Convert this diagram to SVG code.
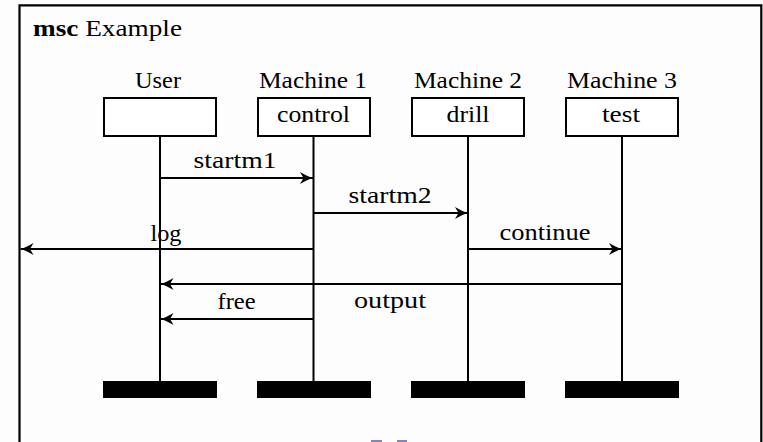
<svg xmlns="http://www.w3.org/2000/svg" width="763" height="442" viewBox="0 0 763 442">
<style>
text{font-family:"Liberation Serif","Times New Roman",serif;font-size:24px;fill:#000;text-anchor:middle}
.box{fill:#fff;stroke:#000;stroke-width:2}
.life{stroke:#000;stroke-width:2}
.bar{fill:#000}
.msg{stroke:#000;stroke-width:2;fill:none;marker-end:url(#ah)}
</style>
<defs>
<marker id="ah" markerUnits="userSpaceOnUse" markerWidth="16" markerHeight="16" viewBox="-14 -8 16 16" refX="0" refY="0" orient="auto">
<path d="M0,0 C-4,-1 -9,-3.5 -13,-6 L-9.5,0 L-13,6 C-9,3.5 -4,1 0,0 Z" fill="#000"/>
</marker>
</defs>
<rect x="0" y="0" width="763" height="442" fill="#fdfdfd"/>
<g id="frame">
<path d="M19.5,450 V5.3 H761.3 V450" fill="none" stroke="#000" stroke-width="2.2"/>
<text x="33" y="36" style="text-anchor:start" textLength="149" lengthAdjust="spacingAndGlyphs"><tspan font-weight="bold">msc</tspan> Example</text>
</g>
<g id="user">
<text x="158" y="88" textLength="46" lengthAdjust="spacingAndGlyphs">User</text>
<line class="life" x1="160" y1="137" x2="160" y2="382"/>
<rect class="box" x="104" y="98" width="112" height="38"/>
<rect class="bar" x="103" y="381" width="114" height="17"/>
</g>
<g id="machine1">
<text x="313" y="88" textLength="108" lengthAdjust="spacingAndGlyphs">Machine 1</text>
<line class="life" x1="313.5" y1="137" x2="313.5" y2="382"/>
<rect class="box" x="258" y="98" width="112" height="38"/>
<text x="313.5" y="122" textLength="73" lengthAdjust="spacingAndGlyphs">control</text>
<rect class="bar" x="257" y="381" width="114" height="17"/>
</g>
<g id="machine2">
<text x="468" y="88" textLength="108" lengthAdjust="spacingAndGlyphs">Machine 2</text>
<line class="life" x1="468" y1="137" x2="468" y2="382"/>
<rect class="box" x="412" y="98" width="112" height="38"/>
<text x="468" y="122" textLength="43" lengthAdjust="spacingAndGlyphs">drill</text>
<rect class="bar" x="411" y="381" width="114" height="17"/>
</g>
<g id="machine3">
<text x="622" y="88" textLength="110" lengthAdjust="spacingAndGlyphs">Machine 3</text>
<line class="life" x1="622" y1="137" x2="622" y2="382"/>
<rect class="box" x="566" y="98" width="112" height="38"/>
<text x="621" y="122" textLength="38" lengthAdjust="spacingAndGlyphs">test</text>
<rect class="bar" x="565" y="381" width="114" height="17"/>
</g>
<g id="connectors">
<line class="msg" x1="160" y1="178" x2="313" y2="178"/>
<text x="235" y="168" textLength="83" lengthAdjust="spacingAndGlyphs">startm1</text>
<line class="msg" x1="313.5" y1="213" x2="468" y2="213"/>
<text x="390" y="203" textLength="83" lengthAdjust="spacingAndGlyphs">startm2</text>
<line class="msg" x1="313.5" y1="249" x2="20.5" y2="249"/>
<text x="166" y="241" textLength="31" lengthAdjust="spacingAndGlyphs">log</text>
<line class="msg" x1="468" y1="249" x2="622" y2="249"/>
<text x="545" y="240" textLength="91" lengthAdjust="spacingAndGlyphs">continue</text>
<line class="msg" x1="622" y1="284" x2="160.5" y2="284"/>
<text x="390" y="308" textLength="72" lengthAdjust="spacingAndGlyphs">output</text>
<line class="msg" x1="313.5" y1="319" x2="160.5" y2="319"/>
<text x="236.5" y="309" textLength="38" lengthAdjust="spacingAndGlyphs">free</text>
</g>
<rect x="371" y="440" width="11" height="2" fill="#8484c4"/>
<rect x="397" y="440" width="10" height="2" fill="#8484c4"/>
</svg>
